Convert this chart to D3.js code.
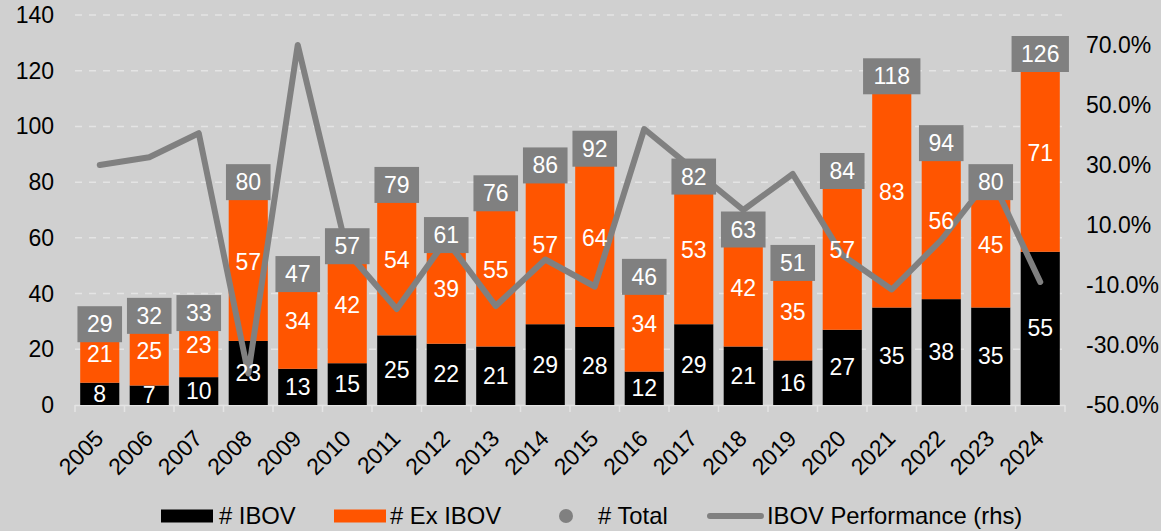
<!DOCTYPE html>
<html>
<head>
<meta charset="utf-8">
<script src="https://cdn.jsdelivr.net/npm/d3@7"></script>
<style>
  body { margin: 0; background: #d0d0d0; }
  svg { display: block; font-family: "Liberation Sans", Arial, sans-serif; }
</style>
</head>
<body>
<svg id="chart" width="1161" height="531"></svg>
<script>
const years = ["2005","2006","2007","2008","2009","2010","2011","2012","2013","2014",
  "2015","2016","2017","2018","2019","2020","2021","2022","2023","2024"];
const ibov = [8,7,10,23,13,15,25,22,21,29,28,12,29,21,16,27,35,38,35,55];
const exIbov = [21,25,23,57,34,42,54,39,55,57,64,34,53,42,35,57,83,56,45,71];
const total = [29,32,33,80,47,57,79,61,76,86,92,46,82,63,51,84,118,94,80,126];
// IBOV performance, % (right axis)
const perf = [30,32.6,40.6,-39.5,70,1,-18,5,-17,-1.5,-10.5,42,28.5,15,27,0,-11.5,5,26,-9];
const leftTicks = [0,20,40,60,80,100,120,140];
const rightTicks = [-50,-30,-10,10,30,50,70];

const W = 1161, H = 531;
const plotL = 75, plotR = 1065, plotT = 15, plotB = 405;
const orange = "#ff5500", grey = "#808080";
const fs = 23;

const svg = d3.select("#chart");
svg.append("rect").attr("width", W).attr("height", H).attr("fill", "#d0d0d0");

const x = d3.scaleBand().domain(years).range([plotL, plotR]).paddingInner(0.21).paddingOuter(0.105);
const y = d3.scaleLinear().domain([0, 140]).range([plotB, plotT]);
const y2 = d3.scaleLinear().domain([-50, 80]).range([plotB, plotT]);
const cx = d => x(d) + x.bandwidth() / 2;

// gridlines
svg.append("g").selectAll("line")
  .data(leftTicks.filter(d => d > 0))
  .enter().append("line")
  .attr("x1", plotL).attr("x2", plotR)
  .attr("y1", d => y(d)).attr("y2", d => y(d))
  .attr("stroke", "#e4e4e4").attr("stroke-width", 1.5)
  .attr("stroke-dasharray", "7,7");

// left axis
svg.append("g").selectAll("text")
  .data(leftTicks).enter().append("text")
  .attr("x", 54).attr("y", d => y(d))
  .attr("dy", "0.35em").attr("text-anchor", "end")
  .attr("font-size", fs).attr("fill", "#000")
  .text(d => d);

// right axis
svg.append("g").selectAll("text")
  .data(rightTicks).enter().append("text")
  .attr("x", 1086).attr("y", d => y2(d))
  .attr("dy", "0.35em").attr("text-anchor", "start")
  .attr("font-size", fs).attr("fill", "#000")
  .text(d => d.toFixed(1) + "%");

// x axis line + ticks
const step = x.step();
svg.append("line").attr("x1", plotL).attr("x2", plotR)
  .attr("y1", plotB + 0.5).attr("y2", plotB + 0.5)
  .attr("stroke", "#e4e4e4").attr("stroke-width", 1.5);
svg.append("g").selectAll("line")
  .data(d3.range(years.length + 1)).enter().append("line")
  .attr("x1", i => plotL + i * step).attr("x2", i => plotL + i * step)
  .attr("y1", plotB).attr("y2", plotB + 7)
  .attr("stroke", "#e4e4e4").attr("stroke-width", 1.5);

svg.append("g").selectAll("text")
  .data(years).enter().append("text")
  .attr("transform", d => "translate(" + (cx(d) + 5) + "," + 440 + ") rotate(-45)")
  .attr("text-anchor", "end")
  .attr("font-size", fs).attr("fill", "#000")
  .text(d => d);

// bars
const bars = svg.append("g");
bars.selectAll("rect.ib").data(years).enter().append("rect")
  .attr("x", d => x(d)).attr("width", x.bandwidth())
  .attr("y", (d, i) => y(ibov[i])).attr("height", (d, i) => y(0) - y(ibov[i]))
  .attr("fill", "#000");
bars.selectAll("rect.ex").data(years).enter().append("rect")
  .attr("x", d => x(d)).attr("width", x.bandwidth())
  .attr("y", (d, i) => y(ibov[i] + exIbov[i]))
  .attr("height", (d, i) => y(ibov[i]) - y(ibov[i] + exIbov[i]))
  .attr("fill", orange);

// performance line
const line = d3.line().x(d => cx(d[0])).y(d => y2(d[1]));
svg.append("path")
  .datum(years.map((d, i) => [d, perf[i]]))
  .attr("d", line)
  .attr("fill", "none").attr("stroke", grey).attr("stroke-width", 6)
  .attr("stroke-linejoin", "round").attr("stroke-linecap", "round");

// segment labels
const labels = svg.append("g").attr("font-size", fs).attr("fill", "#fff").attr("text-anchor", "middle");
labels.selectAll("text.a").data(years).enter().append("text")
  .attr("x", d => cx(d)).attr("y", (d, i) => y(ibov[i] / 2))
  .attr("dy", "0.35em").text((d, i) => ibov[i]);
labels.selectAll("text.b").data(years).enter().append("text")
  .attr("x", d => cx(d)).attr("y", (d, i) => y(ibov[i] + exIbov[i] / 2))
  .attr("dy", "0.35em").text((d, i) => exIbov[i]);

// total boxes
const tot = svg.append("g");
tot.selectAll("rect").data(years).enter().append("rect")
  .attr("x", (d, i) => cx(d) - (String(total[i]).length * fs * 0.556) / 2 - 9.5)
  .attr("width", (d, i) => String(total[i]).length * fs * 0.556 + 19)
  .attr("y", (d, i) => y(total[i]) - 18).attr("height", 36)
  .attr("fill", grey);
tot.selectAll("text").data(years).enter().append("text")
  .attr("x", d => cx(d)).attr("y", (d, i) => y(total[i]))
  .attr("dy", "0.35em").attr("text-anchor", "middle")
  .attr("font-size", fs).attr("fill", "#fff")
  .text((d, i) => total[i]);

// legend
const lg = svg.append("g").attr("font-size", 23.8).attr("fill", "#000");
const ly = 516;
lg.append("rect").attr("x", 161).attr("y", ly - 6.5).attr("width", 52).attr("height", 13).attr("fill", "#000");
lg.append("text").attr("x", 219).attr("y", ly).attr("dy", "0.35em").text("# IBOV");
lg.append("rect").attr("x", 334).attr("y", ly - 6.5).attr("width", 52).attr("height", 13).attr("fill", orange);
lg.append("text").attr("x", 390).attr("y", ly).attr("dy", "0.35em").text("# Ex IBOV");
lg.append("circle").attr("cx", 566).attr("cy", ly).attr("r", 7).attr("fill", grey);
lg.append("text").attr("x", 598).attr("y", ly).attr("dy", "0.35em").text("# Total");
lg.append("line").attr("x1", 710).attr("x2", 761).attr("y1", ly).attr("y2", ly)
  .attr("stroke", grey).attr("stroke-width", 6).attr("stroke-linecap", "round");
lg.append("text").attr("x", 767).attr("y", ly).attr("dy", "0.35em").text("IBOV Performance (rhs)");
</script>
</body>
</html>
